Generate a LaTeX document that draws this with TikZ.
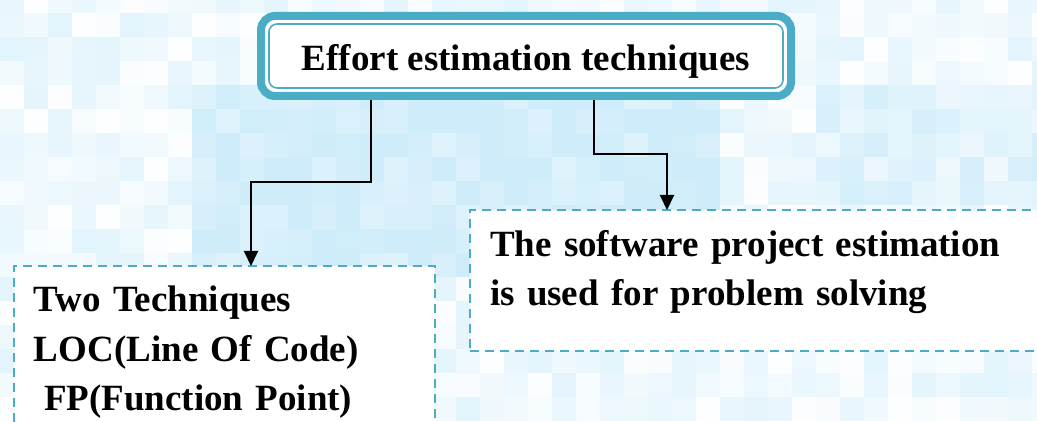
\documentclass[tikz,border=0pt]{standalone}
\usepackage{fontspec}
\setmainfont{Liberation Serif}
\usetikzlibrary{arrows.meta}
\definecolor{boxteal}{RGB}{75,172,198}
\definecolor{tilecolor}{RGB}{206,236,250}

\begin{document}
\begin{tikzpicture}[
    x=1pt, y=1pt,
    headbox/.style={draw=boxteal, line width=8pt, fill=white, rounded corners=14pt,
                    minimum width=530pt, minimum height=80pt, outer sep=0pt,
                    font=\fontsize{37}{49.5}\selectfont\bfseries,
                    text height=37pt, text depth=8pt},
    notebox/.style={draw=boxteal, line width=2.6pt, dash pattern=on 9pt off 6pt,
                    fill=white, outer sep=0pt, inner xsep=20pt, inner ysep=20pt,
                    align=left, font=\fontsize{37}{49.5}\selectfont\bfseries},
    arr/.style={-{Triangle[length=15pt, width=14pt]}, line width=2pt, black}
]
\useasboundingbox (0,0) rectangle (1037,421);
\clip (0,0) rectangle (1037,421);
% mosaic backdrop
\pgfmathsetseed{23}
\foreach \cx in {0,...,43}
  \foreach \cy in {0,...,17} {
    \pgfmathsetmacro{\tint}{int(min(100,5+55*rnd
        +60*(\cx>7)*(\cx<30)*(\cy>5)*(\cy<14)
        +30*(\cx>33)*(\cy>8)*(\cy<14)))}
    \fill[tilecolor!\tint!white] (24*\cx,24*\cy) rectangle ++(24,24);
  }
% boxes
\node[headbox] (title) at (526,365) {Effort estimation techniques};
\draw[boxteal, line width=1.6pt, rounded corners=8pt]
    ([shift={(8pt,8pt)}]title.south west) rectangle ([shift={(-8pt,-8pt)}]title.north east);
\node[notebox, text width=381pt, text depth=130pt, anchor=north west] (tech) at (14,155)
    {Two Techniques\\LOC(Line Of Code)\\\hspace*{10pt}FP(Function Point)};
\node[notebox, text width=560pt, text depth=75pt, anchor=north west] (soft) at (470,211)
    {The software project estimation\\is used for problem solving};
% arrows
\draw[arr] ([xshift=110pt,yshift=-4pt]title.south west) -- ++(0,-82) -| ([xshift=237pt]tech.north west);
\draw[arr] ([xshift=333pt,yshift=-4pt]title.south west) -- ++(0,-54) -| ([xshift=197pt]soft.north west);
\end{tikzpicture}
\end{document}
